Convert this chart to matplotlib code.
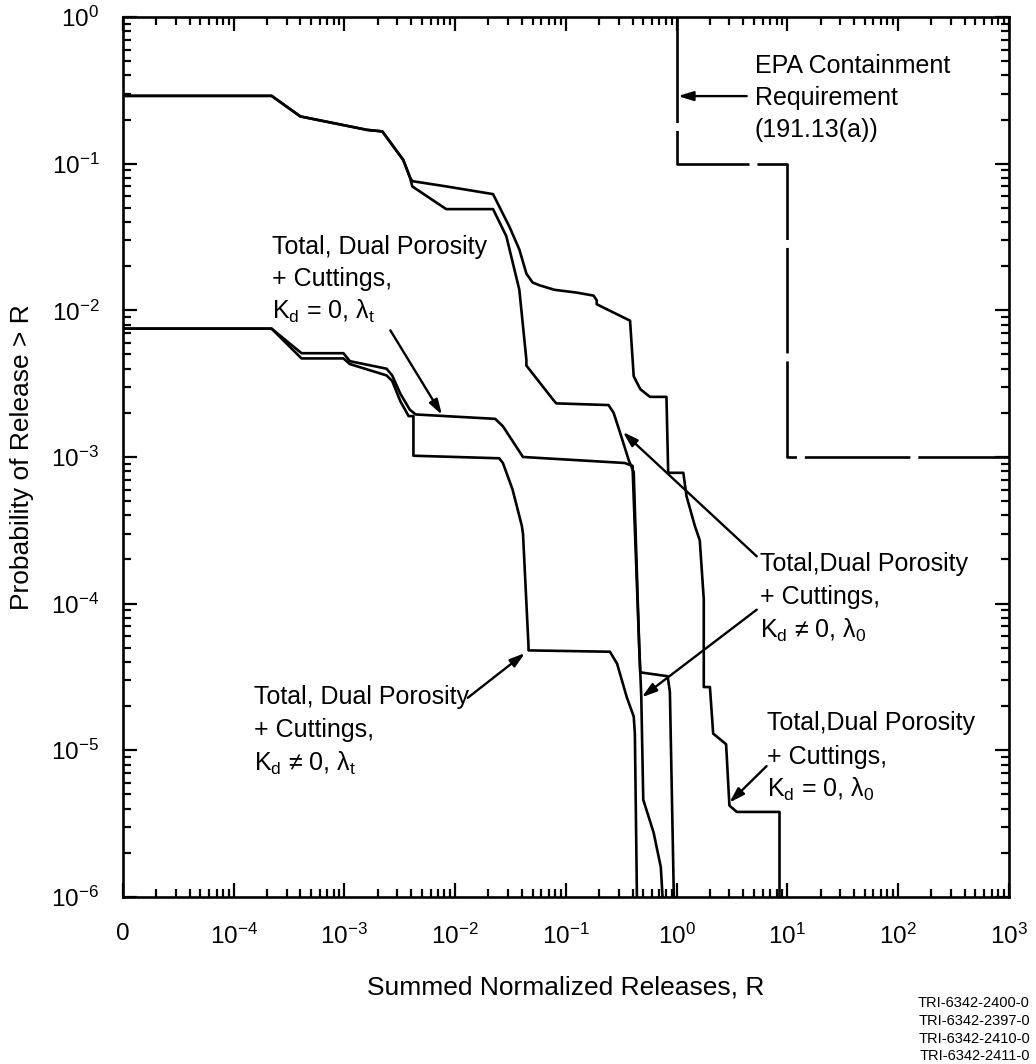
import numpy as np
from matplotlib import pyplot as plt
from matplotlib.ticker import FixedLocator, FixedFormatter, LogLocator, NullFormatter

plt.rcParams['font.family'] = ['Liberation Sans', 'DejaVu Sans']
plt.rcParams['mathtext.default'] = 'regular'

# Kd = 0, lambda_0 (rightmost curve)
kd0_l0_x = [1e-5, 2.2e-4, 4.0e-4, 1.6e-3, 2.2e-3, 3.4e-3, 3.9e-3, 4.1e-3, 8.3e-3, 2.2e-2, 3.1e-2,
            3.8e-2, 4.4e-2, 5.0e-2, 5.8e-2, 7.9e-2, 0.126, 0.178, 0.19, 0.19, 0.38, 0.41, 0.47,
            0.575, 0.81, 0.84, 1.15, 1.23, 1.35, 1.46, 1.62, 1.76, 1.76, 2.0, 2.14, 2.8, 3.0, 3.5,
            8.5, 8.5]
kd0_l0_y = [0.29, 0.29, 0.21, 0.17, 0.166, 0.106, 0.081, 0.076, 0.070, 0.062, 0.037,
            0.026, 0.0178, 0.0155, 0.0148, 0.0138, 0.0132, 0.0126, 0.0117, 0.011, 0.0085, 0.00355, 0.0029,
            0.00257, 0.00257, 7.8e-4, 7.8e-4, 5.4e-4, 4.2e-4, 3.4e-4, 2.7e-4, 1.07e-4, 2.7e-5, 2.7e-5,
            1.3e-5, 1.1e-5, 4.2e-6, 3.8e-6, 3.8e-6, 8e-7]

# Kd != 0, lambda_0
kdn_l0_x = [1e-5, 2.2e-4, 4.0e-4, 1.6e-3, 2.2e-3, 3.4e-3, 3.9e-3, 4.1e-3, 8.3e-3, 2.2e-2, 2.9e-2,
            3.8e-2, 4.4e-2, 4.4e-2, 7.7e-2, 8.2e-2, 0.243, 0.27, 0.31, 0.37, 0.41, 0.46, 0.47, 0.48,
            0.50, 0.62, 0.72, 0.76]
kdn_l0_y = [0.29, 0.29, 0.21, 0.17, 0.166, 0.106, 0.081, 0.070, 0.049, 0.049, 0.032,
            0.0138, 0.0046, 0.0042, 0.00245, 0.00232, 0.00226, 0.0020, 0.00145, 9.5e-4, 7.9e-4, 5e-5,
            3.4e-5, 2.3e-5, 4.6e-6, 2.75e-6, 1.6e-6, 8e-7]

# Kd = 0, lambda_t
kd0_lt_x = [1e-5, 2.2e-4, 4.1e-4, 9.8e-4, 1.12e-3, 2.4e-3, 2.7e-3, 3.2e-3, 3.9e-3, 4.4e-3, 2.3e-2,
            2.7e-2, 4.1e-2, 0.34, 0.40, 0.46, 0.47, 0.83, 0.87, 0.95]
kd0_lt_y = [7.5e-3, 7.5e-3, 5.1e-3, 5.1e-3, 4.5e-3, 4.0e-3, 3.6e-3, 2.7e-3, 2.1e-3, 1.95e-3, 1.82e-3,
            1.62e-3, 1.0e-3, 9.1e-4, 8.7e-4, 5e-5, 3.4e-5, 3.2e-5, 2.5e-5, 8e-7]

# Kd != 0, lambda_t
kdn_lt_x = [1e-5, 2.2e-4, 4.1e-4, 9.8e-4, 1.12e-3, 2.4e-3, 2.7e-3, 3.2e-3, 3.8e-3, 4.2e-3, 4.2e-3,
            2.5e-2, 2.7e-2, 3.3e-2, 4.0e-2, 4.1e-2, 4.6e-2, 4.6e-2, 0.25, 0.29, 0.355, 0.41, 0.42, 0.44]
kdn_lt_y = [7.5e-3, 7.5e-3, 4.7e-3, 4.7e-3, 4.3e-3, 3.6e-3, 3.3e-3, 2.4e-3, 1.9e-3, 1.9e-3, 1.02e-3,
            9.8e-4, 9.1e-4, 6.0e-4, 3.4e-4, 3.0e-4, 5.1e-5, 4.8e-5, 4.7e-5, 3.9e-5, 2.3e-5, 1.7e-5,
            1.3e-5, 8e-7]

# EPA containment requirement
epa_x = [1, 1, 10, 10, 1000]
epa_y = [1, 0.1, 0.1, 1e-3, 1e-3]

x_ticks = [1e-5, 1e-4, 1e-3, 1e-2, 1e-1, 1e0, 1e1, 1e2, 1e3]
x_labels = ['0', r'10$^{-4}$', r'10$^{-3}$', r'10$^{-2}$', r'10$^{-1}$', r'10$^{0}$', r'10$^{1}$',
            r'10$^{2}$', r'10$^{3}$']
y_ticks = [1e-6, 1e-5, 1e-4, 1e-3, 1e-2, 1e-1, 1e0]
y_labels = [r'10$^{-6}$', r'10$^{-5}$', r'10$^{-4}$', r'10$^{-3}$', r'10$^{-2}$', r'10$^{-1}$', r'10$^{0}$']

tri_labels = ['TRI-6342-2400-0', 'TRI-6342-2397-0', 'TRI-6342-2410-0', 'TRI-6342-2411-0']

fig = plt.figure(figsize=(10.36, 10.64), dpi=100)
ax = fig.add_axes([0.1187, 0.157, 0.855, 0.827])

lw = 1.9
ax.plot(kd0_l0_x, kd0_l0_y, color='black', lw=lw)
ax.plot(kdn_l0_x, kdn_l0_y, color='black', lw=lw)
ax.plot(kd0_lt_x, kd0_lt_y, color='black', lw=lw)
ax.plot(kdn_lt_x, kdn_lt_y, color='black', lw=lw)
ax.plot(epa_x, epa_y, color='black', lw=lw, linestyle=(0, (40, 3)))

ax.set_xscale('log')
ax.set_yscale('log')
ax.set_xlim(1e-5, 1e3)
ax.set_ylim(1e-6, 1)

ax.xaxis.set_major_locator(FixedLocator(x_ticks))
ax.xaxis.set_major_formatter(FixedFormatter(x_labels))
ax.yaxis.set_major_locator(FixedLocator(y_ticks))
ax.yaxis.set_major_formatter(FixedFormatter(y_labels))
ax.xaxis.set_minor_locator(LogLocator(base=10, subs=np.arange(2, 10), numticks=30))
ax.yaxis.set_minor_locator(LogLocator(base=10, subs=np.arange(2, 10), numticks=30))
ax.xaxis.set_minor_formatter(NullFormatter())
ax.yaxis.set_minor_formatter(NullFormatter())

ax.tick_params(which='both', direction='in', top=True, right=True, width=1.6, labelsize=17.5)
ax.tick_params(which='major', length=10)
ax.tick_params(which='minor', length=5.5)
ax.tick_params(axis='x', which='major', pad=19)
ax.tick_params(axis='y', which='major', pad=17)
for s in ax.spines.values():
    s.set_linewidth(1.9)

fs = 18
arrow = dict(arrowstyle='-|>,head_length=0.9,head_width=0.28', color='black', lw=1.7,
             shrinkA=0, shrinkB=0)

# EPA label
for txt, yy in zip(['EPA Containment', 'Requirement', '(191.13(a))'], [0.463, 0.28, 0.17]):
    ax.text(5.1, yy, txt, fontsize=fs, ha='left', va='center')
ax.annotate('', xy=(1.03, 0.289), xytext=(4.3, 0.289), arrowprops=arrow)

# Kd = 0, lambda_t label (upper left)
for txt, yy in zip(['Total, Dual Porosity', '+ Cuttings,', r'K$_d$ = 0, λ$_t$'], [0.027, 0.0164, 0.0099]):
    ax.text(2.2e-4, yy, txt, fontsize=fs, ha='left', va='center')
ax.annotate('', xy=(7.6e-3, 1.94e-3), xytext=(2.6e-3, 7.3e-3), arrowprops=arrow)

# Kd != 0, lambda_t label (lower left)
for txt, yy in zip(['Total, Dual Porosity', '+ Cuttings,', r'K$_d$ ≠ 0, λ$_t$'], [2.3e-5, 1.38e-5, 8.2e-6]):
    ax.text(1.52e-4, yy, txt, fontsize=fs, ha='left', va='center')
ax.annotate('', xy=(4.27e-2, 4.6e-5), xytext=(1.3e-2, 2.28e-5), arrowprops=arrow)

# Kd != 0, lambda_0 label (right middle)
for txt, yy in zip(['Total,Dual Porosity', '+ Cuttings,', r'K$_d$ ≠ 0, λ$_0$'], [1.87e-4, 1.11e-4, 6.6e-5]):
    ax.text(5.65, yy, txt, fontsize=fs, ha='left', va='center')
ax.annotate('', xy=(0.327, 1.48e-3), xytext=(5.3, 2.1e-4), arrowprops=arrow)
ax.annotate('', xy=(0.485, 2.3e-5), xytext=(5.3, 9.1e-5), arrowprops=arrow)

# Kd = 0, lambda_0 label (lower right)
for txt, yy in zip(['Total,Dual Porosity', '+ Cuttings,', r'K$_d$ = 0, λ$_0$'], [1.54e-5, 9.0e-6, 5.4e-6]):
    ax.text(6.6, yy, txt, fontsize=fs, ha='left', va='center')
ax.annotate('', xy=(3.0, 4.4e-6), xytext=(6.5, 7.8e-6), arrowprops=arrow)

fig.text(22 / 1036, 1 - 457 / 1064, 'Probability of Release > R', rotation=90, fontsize=19,
         ha='center', va='center')
fig.text(566 / 1036, 1 - 987 / 1064, 'Summed Normalized Releases, R', fontsize=19,
         ha='center', va='center')
for txt, yy in zip(tri_labels, [1003, 1021, 1039, 1056]):
    fig.text(1030 / 1036, 1 - yy / 1064, txt, fontsize=10.5, ha='right', va='center')

fig.savefig('out.png', dpi=100)
